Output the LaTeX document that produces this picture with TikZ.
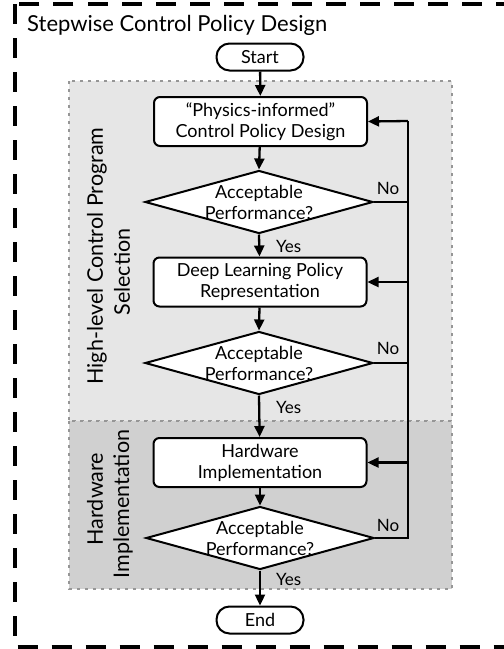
\documentclass[tikz,border=0pt]{standalone}
\usepackage{fontspec}
\setmainfont{Lato}
\usetikzlibrary{shapes.geometric,arrows.meta}

\definecolor{stageA}{RGB}{230,230,230}
\definecolor{stageB}{RGB}{208,208,208}
\definecolor{stageEdge}{RGB}{150,150,150}

\tikzset{
  frame/.style={line width=4pt, dash pattern=on 20pt off 14pt},
  stage/.style={draw=stageEdge, line width=2.6pt, dash pattern=on 3pt off 5pt},
  terminal/.style={draw, line width=2pt, fill=white, rounded corners=13pt,
    minimum width=87pt, minimum height=27pt, inner sep=0pt, font=\fontsize{18}{21}\selectfont},
  process/.style={draw, line width=2pt, fill=white, rounded corners=6pt,
    minimum width=213pt, minimum height=49pt, inner sep=0pt, align=center,
    font=\fontsize{18}{21}\selectfont},
  decision/.style={draw, line width=2pt, fill=white, diamond, inner sep=0pt,
    minimum width=228pt, minimum height=63pt},
  dtext/.style={align=center, inner sep=0pt, font=\fontsize{18}{21}\selectfont},
  flow/.style={line width=2.3pt, -{Triangle[length=11pt,width=10pt]}},
  wire/.style={line width=2.3pt},
  tag/.style={inner sep=0pt, font=\fontsize{17}{20}\selectfont},
  sidetext/.style={rotate=90, inner sep=0pt, font=\fontsize{21.5}{25}\selectfont},
}

\begin{document}
\begin{tikzpicture}[x=1pt,y=-1pt]
  \useasboundingbox (0,0) rectangle (504,649);
  \begin{scope}
    \clip (0,0) rectangle (504,649);
    \draw[frame] (14.5,4) rectangle (540,647);
  \end{scope}

  % stage backgrounds
  \filldraw[stage, fill=stageA] (69,81) rectangle (452,421);
  \filldraw[stage, fill=stageB] (69,421) rectangle (452,589);

  \node[anchor=base west, inner sep=0pt, font=\fontsize{22}{26}\selectfont] (title) at (27,31)
    {Stepwise Control Policy Design};

  % stage labels
  \node[sidetext] (sa1) at (97,256) {High-level Control Program};
  \node[sidetext] (sa2) at (122,272) {Selection};
  \node[sidetext] (sb1) at (95,499) {Hardware};
  \node[sidetext] (sb2) at (123,504) {Implementation};

  % flow nodes
  \node[terminal] (start) at (260,57) {Start};
  \node[process] (phys) at (260.5,121.5) {\textquotedblleft Physics-informed\textquotedblright\\Control Policy Design};
  \node[decision] (d1) at (259,202) {};
  \node[dtext] (d1t) at (259,202) {Acceptable\\Performance?};
  \node[process] (dl) at (260,282) {Deep Learning Policy\\Representation};
  \node[decision] (d2) at (259,363) {};
  \node[dtext] (d2t) at (259,363) {Acceptable\\Performance?};
  \node[process] (hw) at (260,462.5) {Hardware\\Implementation};
  \node[decision] (d3) at (260,538) {};
  \node[dtext] (d3t) at (260,538) {Acceptable\\Performance?};
  \node[terminal] (end) at (260,620) {End};

  % feedback rail
  \coordinate (r1) at (408,121);
  \coordinate (r2) at (408,282);
  \coordinate (r3) at (408,462.5);
  \coordinate (r4) at (408,538);

  % main flow
  \draw[flow] (start) -- (phys);
  \draw[flow] (phys) -- (d1.north);
  \draw[flow] (d1.south) -- (dl);
  \draw[flow] (dl) -- (d2.north);
  \draw[flow] (d2.south) -- (hw);
  \draw[flow] (hw) -- (d3.north);
  \draw[flow] (d3.south) -- (end);

  % "No" branches
  \draw[wire] (d3.east) -- (r4) -- (r1);
  \draw[wire] (d1.east) -- (d1.east -| r1);
  \draw[wire] (d2.east) -- (d2.east -| r1);
  \draw[flow] (r1) -- (phys.east);
  \draw[flow] (r2) -- (dl.east);
  \draw[flow] (r3) -- (hw.east);

  % branch labels
  \node[tag] (no1) at (388,188) {No};
  \node[tag] (no2) at (388,348) {No};
  \node[tag] (no3) at (388,525) {No};
  \node[tag, anchor=west] (yes1) at (276,246) {Yes};
  \node[tag, anchor=west] (yes2) at (276,407) {Yes};
  \node[tag, anchor=west] (yes3) at (276,579) {Yes};
\end{tikzpicture}
\end{document}
